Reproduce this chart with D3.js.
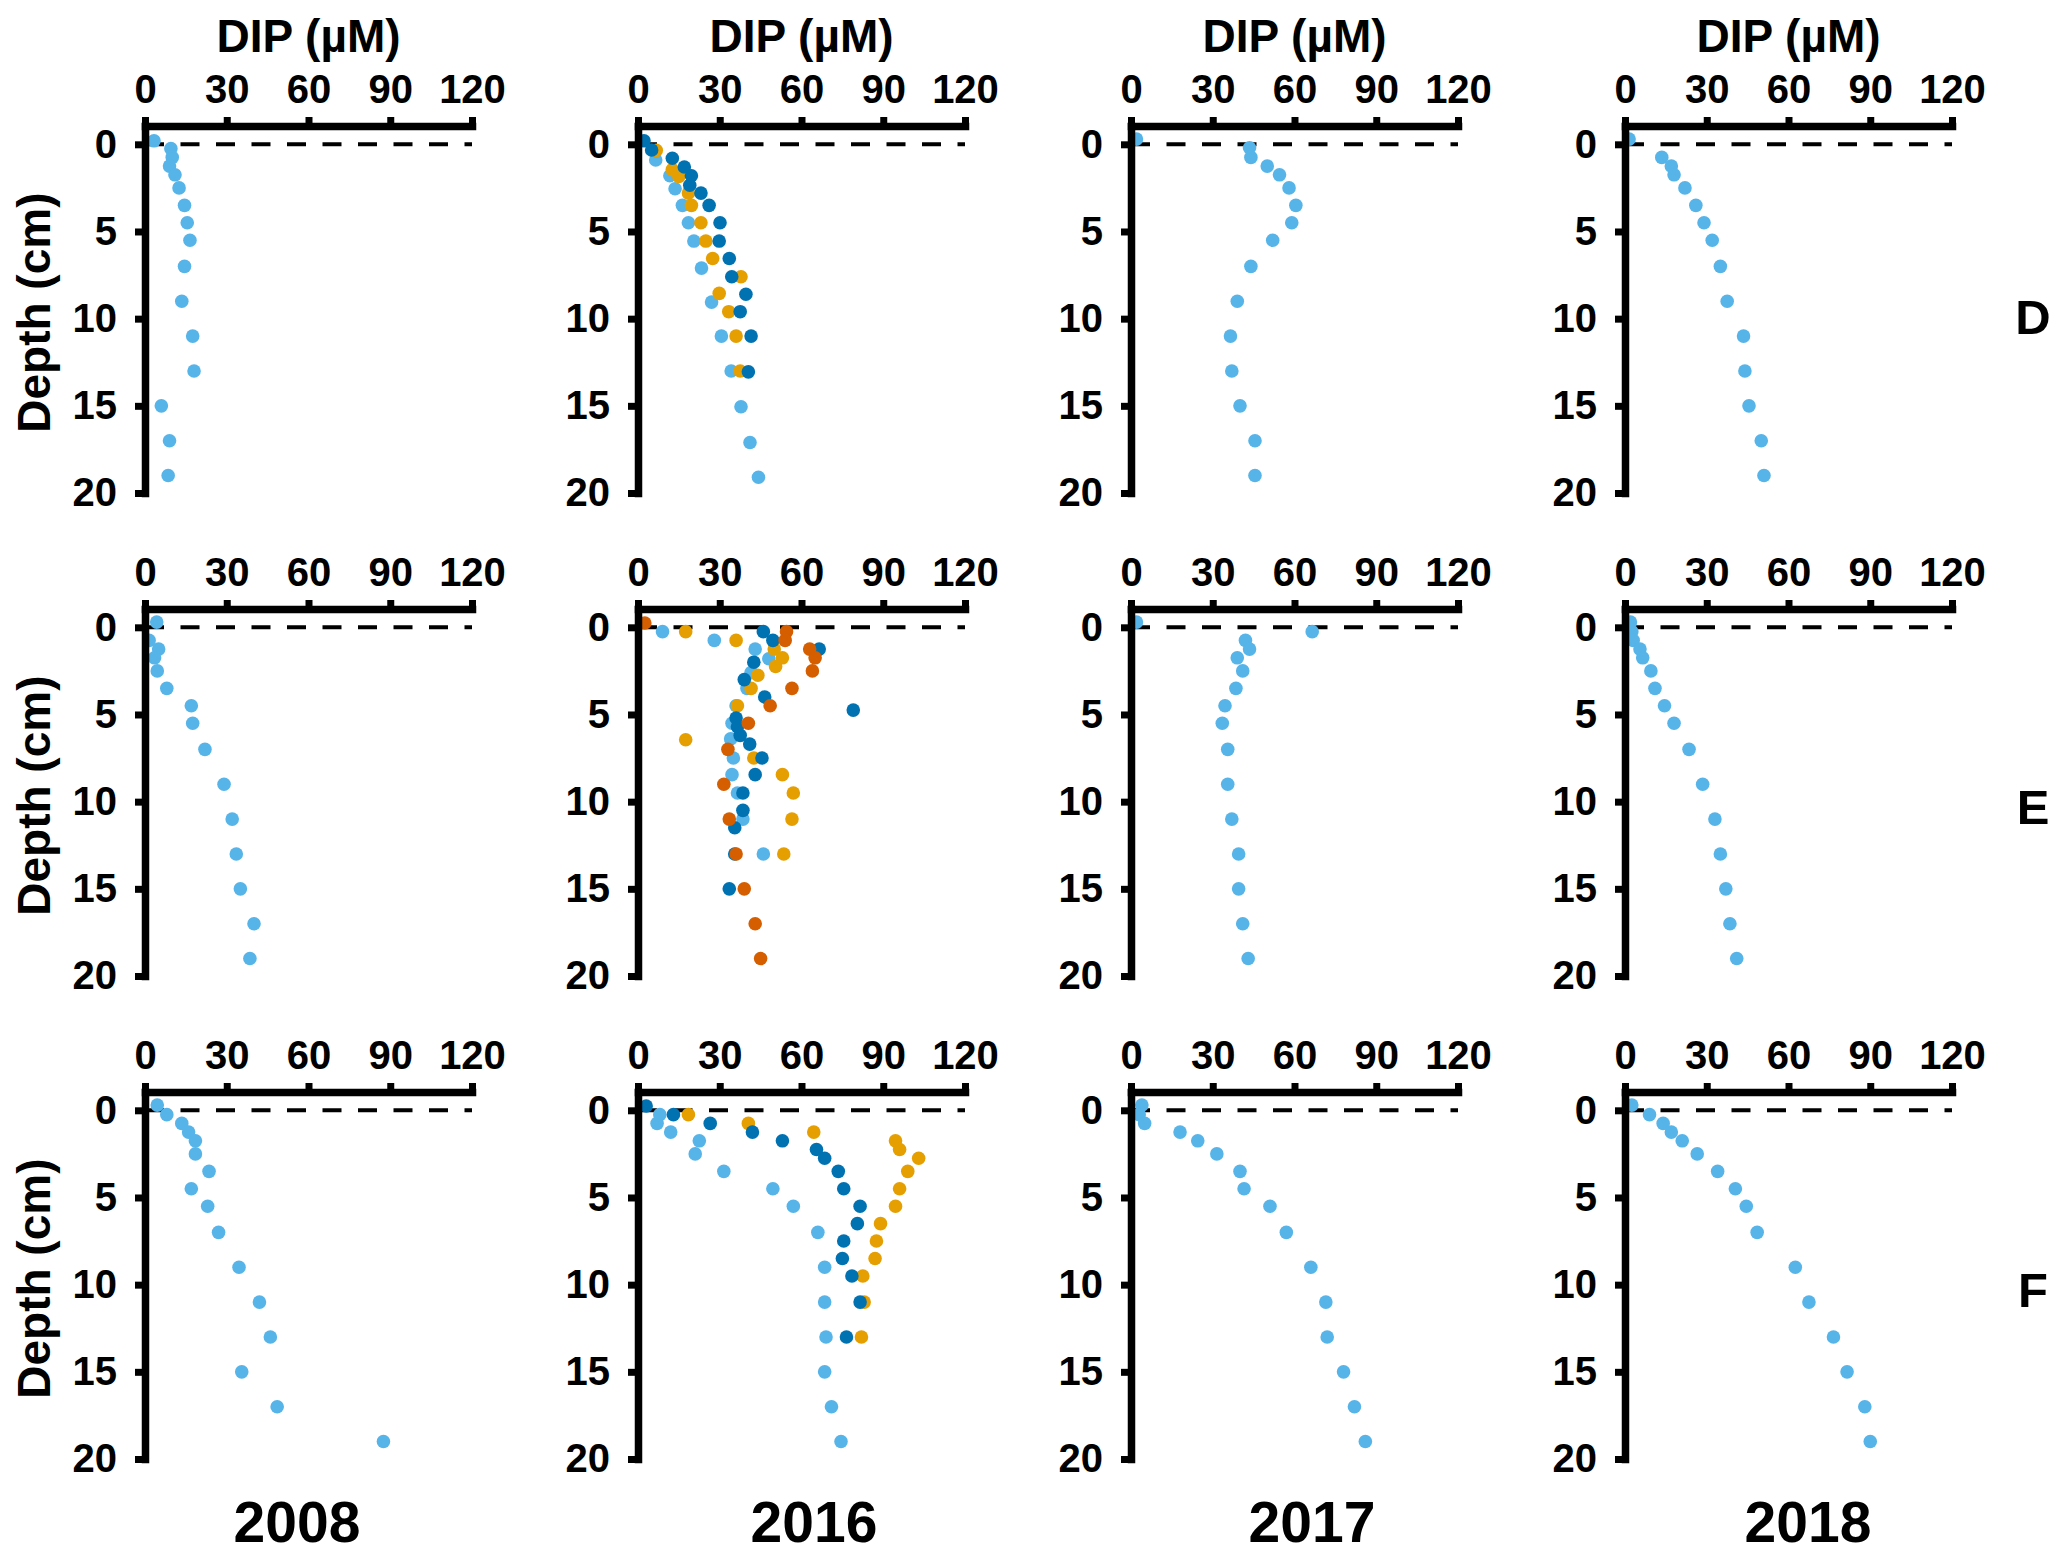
<!DOCTYPE html>
<html>
<head>
<meta charset="utf-8">
<script src="https://cdn.jsdelivr.net/npm/d3@7"></script>
<style>
  body { margin: 0; background: #fff; }
  svg { display: block; font-family: "Liberation Sans", Arial, sans-serif; font-weight: bold; }
</style>
</head>
<body>
<div id="chart"></div>
<script>
// years (columns) and stations (rows)
const years = ['2008', '2016', '2017', '2018']
const stations = ['D', 'E', 'F']
const xTicks = [0, 30, 60, 90, 120]
const yTicks = [0, 5, 10, 15, 20]

// colours of the replicate cores
const coreColors = ['#56B4E9', '#E69F00', '#0072B2', '#D55E00']

// [DIP (uM), depth (cm)] per core
// station D
const D2008 = [[3.3,-0.2],[9.5,0.25],[10,0.75],[9,1.25],[11,1.75],[12.5,2.5],[14.5,3.5],[15.5,4.5],[16.5,5.5],[14.5,7],[13.5,9],[17.5,11],[18,13],[6,15],[9,17],[8.5,19]]
const D2016a = [[6.5,0.9],[11.7,1.8],[13.6,2.55],[16.3,3.5],[18.5,4.5],[20.5,5.55],[23.3,7.1],[27,9.05],[30.6,11],[34.2,13],[37.8,15.05],[41.1,17.1],[44.2,19.1]]
const D2016b = [[6.7,0.35],[12.6,1.45],[15,1.85],[18.5,2.8],[19.6,3.5],[23.1,4.5],[24.9,5.55],[27.4,6.55],[37.8,7.6],[29.8,8.55],[33.3,9.6],[36,11],[37.5,13]]
const D2016c = [[2.2,-0.2],[5,0.33],[12.6,0.8],[17,1.3],[19.6,1.8],[19,2.35],[23.1,2.8],[26.1,3.5],[30.1,4.5],[29.8,5.55],[33.5,6.55],[34.4,7.6],[39.6,8.6],[37.5,9.6],[41.5,11],[40.5,13.05]]
const D2017 = [[2,-0.3],[43.5,0.2],[44,0.75],[50,1.25],[54.5,1.75],[58,2.5],[60.5,3.5],[59,4.5],[52,5.5],[44,7],[39,9],[36.5,11],[37,13],[40,15],[45.5,17],[45.5,19]]
const D2018 = [[1.5,-0.3],[13.5,0.75],[17,1.25],[18,1.75],[22,2.5],[26,3.5],[29,4.5],[32,5.5],[35,7],[37.5,9],[43.5,11],[44,13],[45.5,15],[50,17],[51,19]]
// station E
const E2008 = [[4.3,-0.3],[1.5,0.75],[5,1.25],[3.5,1.75],[4.5,2.5],[8,3.5],[17,4.5],[17.5,5.5],[22,7],[29,9],[32,11],[33.5,13],[35,15],[40,17],[38.5,19]]
const E2016a = [[9,0.25],[28,0.75],[43,1.25],[48,1.8],[41.5,2.6],[40,3.5],[36,4.5],[34.5,5.5],[34,6.4],[35,7.5],[34.5,8.45],[36.5,9.5],[38.5,11],[46,13]]
const E2016b = [[17.5,0.25],[36,0.75],[50,1.25],[53,1.75],[50.5,2.25],[44,2.75],[41.5,3.5],[36.5,4.5],[17.5,6.45],[42.5,7.5],[53,8.45],[57,9.5],[56.5,11],[53.5,13]]
const E2016c = [[46,0.25],[49.5,0.75],[66.5,1.25],[42.5,2],[39,3],[46.5,4],[79,4.75],[36,5.2],[36.5,5.7],[37.5,6.2],[41,6.7],[45.5,7.5],[43,8.45],[38.5,9.5],[38.5,10.5],[35.5,11.5],[35.5,13],[33.5,15]]
const E2016d = [[2.5,-0.25],[54.5,0.25],[54,0.75],[63,1.25],[65,1.75],[64,2.5],[56.5,3.5],[48.5,4.5],[40.5,5.5],[33,7],[31.5,9],[33.5,11],[36,13],[39,15],[43,17],[45,19]]
const E2017 = [[2,-0.3],[66.5,0.25],[42,0.75],[43.5,1.25],[39,1.75],[41,2.5],[38.5,3.5],[34.5,4.5],[33.5,5.5],[35.5,7],[35.5,9],[37,11],[39.5,13],[39.5,15],[41,17],[43,19]]
const E2018 = [[2,-0.3],[2.5,0.25],[3,0.75],[5.5,1.25],[6.5,1.75],[9.5,2.5],[11,3.5],[14.5,4.5],[18,5.5],[23.5,7],[28.5,9],[33,11],[35,13],[37,15],[38.5,17],[41,19]]
// station F
const F2008 = [[4.5,-0.3],[8,0.25],[13.5,0.75],[16,1.25],[18.5,1.75],[18.5,2.5],[23.5,3.5],[17,4.5],[23,5.5],[27,7],[34.5,9],[42,11],[46,13],[35.5,15],[48.5,17],[87.5,19]]
const F2016a = [[8,0.25],[7,0.75],[12,1.25],[22.5,1.75],[21,2.5],[31.5,3.5],[49.5,4.5],[57,5.5],[66,7],[68.5,9],[68.5,11],[69,13],[68.5,15],[71,17],[74.5,19]]
const F2016b = [[18.5,0.25],[40.5,0.75],[64.5,1.25],[94.5,1.75],[96,2.25],[103,2.75],[99,3.5],[96,4.5],[94.5,5.5],[89,6.5],[87.5,7.5],[87,8.5],[82.5,9.5],[83,11],[82,13]]
const F2016c = [[3,-0.25],[13,0.25],[26.5,0.75],[42,1.25],[53,1.75],[65.5,2.25],[68.5,2.75],[73.5,3.5],[75.5,4.5],[81.5,5.5],[80.5,6.5],[75.5,7.5],[75,8.5],[78.5,9.5],[81.5,11],[76.5,13]]
const F2017 = [[4,-0.3],[3,0.25],[5,0.75],[18,1.25],[24.5,1.75],[31.5,2.5],[40,3.5],[41.5,4.5],[51,5.5],[57,7],[66,9],[71.5,11],[72,13],[78,15],[82,17],[86,19]]
const F2018 = [[2.5,-0.3],[9,0.25],[14,0.75],[17,1.25],[21,1.75],[26.5,2.5],[34,3.5],[40.5,4.5],[44.5,5.5],[48.5,7],[62.5,9],[67.5,11],[76.5,13],[81.5,15],[88,17],[90,19]]

// rows x columns, each cell a list of cores (index -> colour)
const panels = [
    [[D2008], [D2016a, D2016b, D2016c], [D2017], [D2018]],
    [[E2008], [E2016a, E2016b, E2016c, E2016d], [E2017], [E2018]],
    [[F2008], [F2016a, F2016b, F2016c], [F2017], [F2018]]
]

const W = 2067, H = 1560
const colX = [145, 638, 1131, 1625]
const rowY = [126, 609, 1092]
const panelW = 327, panelH = 367
const yearX = [297, 814, 1312, 1808]
const stationY = [334, 824, 1307]

const svg = d3.select('#chart').append('svg')
    .attr('width', W)
    .attr('height', H)

const xScale = d3.scaleLinear().domain([0, 120]).range([0, panelW])
const yScale = d3.scaleLinear().domain([-1.05, 20]).range([0, panelH])

const xAxis = d3.axisTop(xScale).tickValues(xTicks).tickSize(9).tickSizeOuter(0).tickPadding(14)
const yAxis = d3.axisLeft(yScale).tickValues(yTicks).tickSize(10).tickSizeOuter(0).tickPadding(18)

panels.forEach((row, r) => {
    row.forEach((cores, c) => {
        const g = svg.append('g')
            .attr('transform', `translate(${colX[c]},${rowY[r]})`)

        /* dashed sediment-water interface */
        g.append('line')
            .attr('x1', xScale(0)).attr('x2', xScale(120))
            .attr('y1', yScale(0)).attr('y2', yScale(0))
            .style('stroke', '#000')
            .style('stroke-width', 4)
            .style('stroke-dasharray', '19,16.5')

        cores.forEach((core, k) => {
            g.selectAll(null)
                .data(core)
                .enter()
                .append('circle')
                .attr('cx', d => xScale(d[0]))
                .attr('cy', d => yScale(d[1]))
                .attr('r', 6.8)
                .style('fill', coreColors[k])
        })

        const gx = g.append('g').call(xAxis)
        const gy = g.append('g').call(yAxis)
        ;[gx, gy].forEach(a => {
            a.attr('font-size', 40)
                .attr('font-family', '"Liberation Sans", Arial, sans-serif')
                .attr('font-weight', 'bold')
            a.select('.domain').style('stroke-width', 7.5).style('stroke-linecap', 'square')
            a.selectAll('.tick line').style('stroke-width', 7)
        })

        if (r === 0) {
            svg.append('text')
                .attr('x', colX[c] + panelW / 2)
                .attr('y', 52)
                .attr('text-anchor', 'middle')
                .attr('font-size', 46)
                .text('DIP (µM)')
        }
    })

    svg.append('text')
        .attr('transform', `translate(50,${rowY[r] + yScale(10) - 6}) rotate(-90)`)
        .attr('text-anchor', 'middle')
        .attr('font-size', 46)
        .text('Depth (cm)')

    svg.append('text')
        .attr('x', 2033)
        .attr('y', stationY[r])
        .attr('text-anchor', 'middle')
        .attr('font-size', 49)
        .text(stations[r])
})

years.forEach((yr, c) => {
    svg.append('text')
        .attr('x', yearX[c])
        .attr('y', 1542)
        .attr('text-anchor', 'middle')
        .attr('font-size', 57)
        .text(yr)
})
</script>
</body>
</html>
